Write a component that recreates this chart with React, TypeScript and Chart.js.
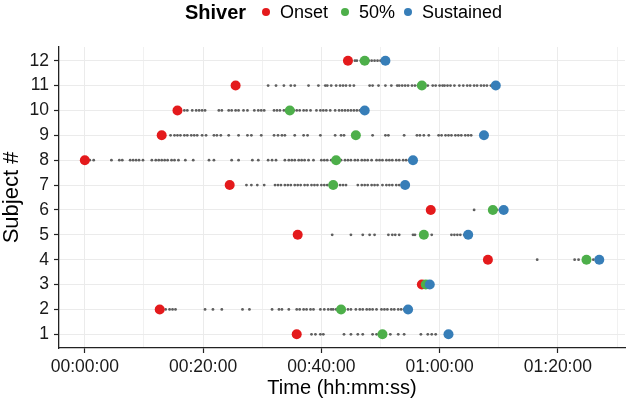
import { useEffect, useRef } from 'react'
import { Chart, registerables, Plugin } from 'chart.js'

Chart.register(...registerables)

const FONT = '"Liberation Sans", Arial, Helvetica, sans-serif'

// subject numbers and the three shiver milestones, in seconds from start
const subjects = [1, 2, 3, 4, 5, 6, 7, 8, 9, 10, 11, 12]
const onsetTimes = [2150, 760, 3420, 4090, 2160, 3510, 1470, 0, 780, 940, 1530, 2670]
const halfTimes = [3020, 2600, 3460, 5090, 3440, 4140, 2520, 2550, 2750, 2080, 3420, 2840]
const sustainedTimes = [3690, 3280, 3500, 5220, 3890, 4250, 3250, 3330, 4050, 2840, 4170, 3050]

// individual shiver events per subject (seconds)
const events1 = [2300, 2340, 2390, 2420, 2630, 2700, 2770, 2820, 2920, 2960, 3100, 3180, 3240, 3410, 3480, 3520, 3560]
const events2 = [790, 820, 860, 890, 920, 1220, 1300, 1390, 1600, 1670, 1900, 1970, 2000, 2070, 2150, 2180, 2220, 2250, 2290, 2320, 2390, 2430, 2470, 2500, 2520, 2550, 2670, 2700, 2750, 2790, 2820, 2860, 2890, 2920, 2960, 3010, 3040, 3070, 3110, 3140, 3180, 3210, 3240]
const events3 = [3440]
const events4 = [4590, 4970, 5010, 5120, 5160, 5190]
const events5 = [2510, 2700, 2820, 2890, 2940, 3080, 3120, 3150, 3190, 3330, 3350, 3520, 3720, 3750, 3780, 3810, 3850]
const events6 = [3950, 4180, 4210]
const events7 = [1640, 1690, 1750, 1820, 1930, 1960, 1990, 2030, 2060, 2090, 2130, 2160, 2190, 2230, 2260, 2300, 2330, 2360, 2400, 2430, 2460, 2490, 2550, 2590, 2620, 2650, 2770, 2810, 2840, 2870, 2910, 2940, 2970, 3020, 3060, 3090, 3120, 3160, 3190, 3220]
const events8 = [50, 90, 270, 350, 380, 460, 490, 520, 550, 590, 680, 720, 750, 780, 810, 840, 880, 910, 950, 1020, 1100, 1260, 1310, 1490, 1560, 1700, 1760, 1860, 1900, 1940, 2030, 2070, 2100, 2130, 2170, 2200, 2230, 2270, 2320, 2400, 2430, 2460, 2500, 2600, 2640, 2670, 2700, 2740, 2770, 2810, 2840, 2870, 2910, 2960, 2990, 3020, 3060, 3090, 3120, 3160, 3190, 3230, 3260, 3290]
const events9 = [870, 910, 940, 970, 1010, 1040, 1080, 1110, 1140, 1190, 1230, 1310, 1340, 1380, 1460, 1560, 1650, 1690, 1790, 1920, 1960, 2000, 2030, 2130, 2220, 2260, 2390, 2540, 2600, 2630, 2920, 3050, 3080, 3240, 3370, 3400, 3440, 3490, 3590, 3620, 3660, 3690, 3720, 3760, 3790, 3820, 3860, 3890, 3920]
const events10 = [1010, 1040, 1090, 1130, 1160, 1190, 1220, 1360, 1390, 1460, 1490, 1530, 1560, 1610, 1650, 1720, 1760, 1790, 1820, 1920, 1950, 1980, 2020, 2050, 2120, 2150, 2180, 2220, 2250, 2290, 2350, 2390, 2420, 2450, 2490, 2540, 2580, 2610, 2640, 2670, 2700, 2730, 2760, 2790]
const events11 = [1860, 1940, 2020, 2090, 2130, 2270, 2370, 2440, 2460, 2500, 2550, 2590, 2620, 2650, 2690, 2730, 2890, 2920, 2980, 3050, 3110, 3170, 3190, 3220, 3250, 3280, 3320, 3350, 3380, 3480, 3530, 3560, 3600, 3630, 3650, 3680, 3710, 3750, 3800, 3840, 3880, 3910, 3950, 3980, 4020, 4050, 4080, 4120]
const events12 = [2700, 2740, 2760, 2800, 2880, 2910, 2940, 2970, 3000, 3020]

const eventsBySubject = [events1, events2, events3, events4, events5, events6, events7, events8, events9, events10, events11, events12]

// x grid every 10 min, labels every 20 min
const xBreaks = [0, 600, 1200, 1800, 2400, 3000, 3600, 4200, 4800, 5400]
const xLabelStep = 1200

const seriesNames = ['Onset', '50%', 'Sustained']
const seriesColors = ['#E41A1C', '#4DAF4A', '#377EB8']

function hms(sec: number) {
  const h = Math.floor(sec / 3600)
  const m = Math.floor((sec % 3600) / 60)
  const s = Math.round(sec % 60)
  const p = (n: number) => String(n).padStart(2, '0')
  return `${p(h)}:${p(m)}:${p(s)}`
}

const legendPlugin: Plugin = {
  id: 'shiverLegend',
  afterDraw(chart) {
    const ctx = chart.ctx
    ctx.save()
    ctx.textBaseline = 'middle'
    ctx.fillStyle = '#000'
    ctx.font = `bold 20px ${FONT}`
    ctx.fillText('Shiver', 185, 13)
    const dots = [266, 345, 408]
    ctx.font = `18px ${FONT}`
    seriesNames.forEach((name, i) => {
      ctx.beginPath()
      ctx.fillStyle = seriesColors[i]
      ctx.arc(dots[i], 12, 4, 0, Math.PI * 2)
      ctx.fill()
      ctx.fillStyle = '#000'
      ctx.fillText(name, dots[i] + 14, 13)
    })
    ctx.restore()
  },
}

export default function App() {
  const canvasRef = useRef<HTMLCanvasElement>(null)
  const chartRef = useRef<Chart | null>(null)

  useEffect(() => {
    document.body.style.margin = '0'
    if (!canvasRef.current) return
    if (chartRef.current) chartRef.current.destroy()

    const milestone = [onsetTimes, halfTimes, sustainedTimes]
    const pointSets = milestone.map((times, i) => ({
      label: seriesNames[i],
      data: subjects.map((s, j) => ({ x: times[j], y: s })),
      backgroundColor: seriesColors[i],
      borderWidth: 0,
      pointRadius: 5,
      order: 3 - i,
    }))

    const events = eventsBySubject.flatMap((evs, i) => evs.map(t => ({ x: t, y: subjects[i] })))

    chartRef.current = new Chart(canvasRef.current, {
      type: 'scatter',
      data: {
        datasets: [
          ...pointSets,
          {
            label: 'events',
            data: events,
            backgroundColor: '#5e5e5e',
            borderWidth: 0,
            pointRadius: 1.4,
            order: 4,
          },
        ],
      },
      options: {
        responsive: false,
        animation: false,
        layout: { padding: { top: 47, right: 2, left: 0, bottom: 0 } },
        plugins: {
          legend: { display: false },
          tooltip: { enabled: false },
        },
        scales: {
          x: {
            type: 'linear',
            min: -262,
            max: 5481,
            afterBuildTicks: (scale) => {
              scale.ticks = xBreaks.map(v => ({ value: v }))
            },
            afterFit: (scale) => {
              scale.height = 57
            },
            ticks: {
              autoSkip: false,
              maxRotation: 0,
              padding: 4,
              color: '#1a1a1a',
              font: { family: FONT, size: 17.5 },
              callback: (v) => (Number(v) % xLabelStep === 0 ? hms(Number(v)) : ''),
            },
            grid: {
              color: '#ebebeb',
              lineWidth: (c) => (c.tick && c.tick.value % xLabelStep === 0 ? 1 : 0.7),
              tickColor: (c) => (c.tick && c.tick.value % xLabelStep === 0 ? '#222' : 'rgba(0,0,0,0)'),
              tickLength: 5,
              tickWidth: 1.2,
            },
            border: { color: '#222', width: 1.3 },
            title: {
              display: true,
              text: 'Time (hh:mm:ss)',
              color: '#000',
              font: { family: FONT, size: 20 },
              padding: { top: 0, bottom: 5 },
            },
          },
          y: {
            type: 'linear',
            min: 0.45,
            max: 12.55,
            afterBuildTicks: (scale) => {
              scale.ticks = subjects.map(v => ({ value: v }))
            },
            afterFit: (scale) => {
              scale.width = 59
            },
            ticks: {
              autoSkip: false,
              padding: 5,
              color: '#1a1a1a',
              font: { family: FONT, size: 17.5 },
            },
            grid: {
              color: '#ebebeb',
              tickColor: '#222',
              tickLength: 5,
              tickWidth: 1.2,
            },
            border: { color: '#222', width: 1.3 },
            title: {
              display: true,
              text: 'Subject #',
              color: '#000',
              font: { family: FONT, size: 22 },
              padding: { top: -1, bottom: 0 },
            },
          },
        },
      },
      plugins: [legendPlugin],
    })

    return () => {
      if (chartRef.current) {
        chartRef.current.destroy()
        chartRef.current = null
      }
    }
  }, [])

  return (
    <div style={{ width: 630, height: 405 }}>
      <canvas ref={canvasRef} width={630} height={405}></canvas>
    </div>
  )
}
